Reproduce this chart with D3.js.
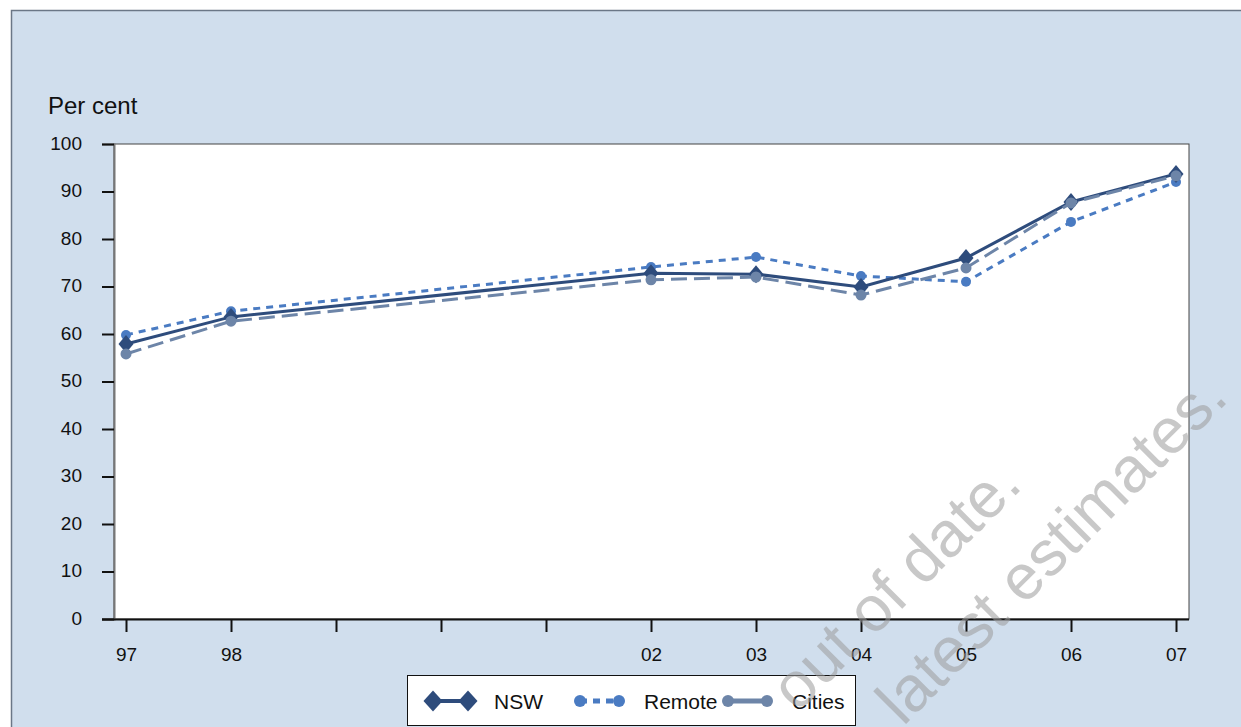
<!DOCTYPE html>
<html><head><meta charset="utf-8">
<script src="https://cdn.jsdelivr.net/npm/d3@7"></script>
<style>
html,body{margin:0;padding:0;background:#fff;}
svg{display:block;font-family:"Liberation Sans",Arial,sans-serif;}
</style></head>
<body>
<svg id="chart" width="1241" height="727"></svg>
<script>
const years = [1997, 1998, 2002, 2003, 2004, 2005, 2006, 2007];
const tickYears = [1997, 1998, 1999, 2000, 2001, 2002, 2003, 2004, 2005, 2006, 2007];
const tickLabels = ["97", "98", "", "", "", "02", "03", "04", "05", "06", "07"];
const nsw    = [57.9, 63.6, 72.8, 72.6, 69.9, 76.0, 87.8, 93.7];
const remote = [59.8, 64.8, 74.1, 76.2, 72.2, 71.0, 83.6, 92.0];
const cities = [55.8, 62.7, 71.4, 72.0, 68.2, 73.9, 87.6, 93.3];
const yTicks = [0, 10, 20, 30, 40, 50, 60, 70, 80, 90, 100];
const seriesNames = ["NSW", "Remote", "Cities"];

const svg = d3.select("#chart");
const W = 1241, H = 727;
const bg = "#d0deed";
const FONT = "Liberation Sans, Arial, sans-serif";

svg.append("rect").attr("x", 0).attr("y", 0).attr("width", W).attr("height", H).attr("fill", "#fff");
svg.append("rect").attr("x", 11.5).attr("y", 10.5).attr("width", W + 20).attr("height", H + 20)
  .attr("fill", bg).attr("stroke", "#6b7787").attr("stroke-width", 1.5);

const L = 114, T = 144, R = 1189, B = 619;
const x = d3.scaleLinear().domain([1997 - 12/105, 2007 + 13/105]).range([L, R]);
const y = d3.scaleLinear().domain([0, 100]).range([B, T]);

svg.append("rect").attr("x", L).attr("y", T).attr("width", R - L).attr("height", B - T)
  .attr("fill", "#fff").attr("stroke", "#444").attr("stroke-width", 1);

// Y axis
const yAxis = svg.append("g").attr("transform", `translate(${L},0)`)
  .call(d3.axisLeft(y).tickValues(yTicks).tickSize(12).tickPadding(20).tickFormat(d3.format("d")));
yAxis.select(".domain").attr("stroke", "#777").attr("stroke-width", 2);
yAxis.selectAll(".tick line").attr("stroke", "#111").attr("stroke-width", 2);
yAxis.selectAll("text").attr("font-size", 19).attr("fill", "#111").attr("font-family", FONT).attr("dy", "0.28em");

// X axis
const xAxis = svg.append("g").attr("transform", `translate(0,${B})`)
  .call(d3.axisBottom(x).tickValues(tickYears).tickSize(13).tickPadding(16)
    .tickFormat((d, i) => tickLabels[i]));
xAxis.select(".domain").attr("d", `M${L - 12},0.5H${R}`).attr("stroke", "#111").attr("stroke-width", 2);
xAxis.selectAll(".tick line").attr("stroke", "#111").attr("stroke-width", 2);
xAxis.selectAll("text").attr("font-size", 19).attr("fill", "#111").attr("font-family", FONT);

svg.append("text").attr("x", 48).attr("y", 114).attr("font-size", 24).attr("fill", "#111").text("Per cent");

const styles = {
  NSW:    {data: nsw,    color: "#2e4c7c", dash: null,   marker: "diamond"},
  Remote: {data: remote, color: "#4a7bc2", dash: "7,6",  marker: "circle"},
  Cities: {data: cities, color: "#6d85a8", dash: "16,7", marker: "circle"}
};

const line = d3.line().x((d, i) => x(years[i])).y(d => y(d));
const diamond = (cx, cy, w, h) => `M${cx},${cy - h}L${cx + w},${cy}L${cx},${cy + h}L${cx - w},${cy}Z`;

function drawSeries(name) {
  const s = styles[name];
  const g = svg.append("g");
  g.append("path").datum(s.data).attr("d", line).attr("fill", "none")
    .attr("stroke", s.color).attr("stroke-width", 3).attr("stroke-dasharray", s.dash);
  s.data.forEach((v, i) => {
    if (s.marker === "diamond") {
      g.append("path").attr("d", diamond(x(years[i]), y(v), 7.5, 9)).attr("fill", s.color);
    } else {
      g.append("circle").attr("cx", x(years[i])).attr("cy", y(v)).attr("r", name === "Cities" ? 5.5 : 5).attr("fill", s.color);
    }
  });
}
drawSeries("Remote");
drawSeries("NSW");
drawSeries("Cities");

// Legend
const lg = svg.append("g");
lg.append("rect").attr("x", 407.5).attr("y", 675.5).attr("width", 448).attr("height", 50)
  .attr("fill", "#fff").attr("stroke", "#111").attr("stroke-width", 1);
const legendPos = [
  {name: "NSW", x1: 433, x2: 468, tx: 494},
  {name: "Remote", x1: 580, x2: 619, tx: 644},
  {name: "Cities", x1: 728, x2: 767, tx: 792}
];
const ly = 701;
legendPos.forEach(p => {
  const s = styles[p.name];
  lg.append("line").attr("x1", p.x1).attr("x2", p.x2).attr("y1", ly).attr("y2", ly)
    .attr("stroke", s.color).attr("stroke-width", p.name === "NSW" ? 4 : 5)
    .attr("stroke-dasharray", p.name === "Remote" ? "7,6" : null);
  [p.x1, p.x2].forEach(cx => {
    if (s.marker === "diamond") lg.append("path").attr("d", diamond(cx, ly, 9.5, 10.5)).attr("fill", s.color);
    else lg.append("circle").attr("cx", cx).attr("cy", ly).attr("r", 6).attr("fill", s.color);
  });
  lg.append("text").attr("x", p.tx).attr("y", ly + 7.5).attr("font-size", 21).attr("fill", "#111").text(p.name);
});

// Watermark
const wm = svg.append("g").attr("fill", "#9a9a9a").attr("fill-opacity", 0.55)
  .attr("font-size", 64).attr("font-family", FONT);
wm.append("text").attr("transform", "translate(1024,487) rotate(-45)").attr("text-anchor", "end").text("out of date.");
wm.append("text").attr("transform", "translate(1230,400) rotate(-45)").attr("text-anchor", "end").text("latest estimates.");
</script>
</body></html>
